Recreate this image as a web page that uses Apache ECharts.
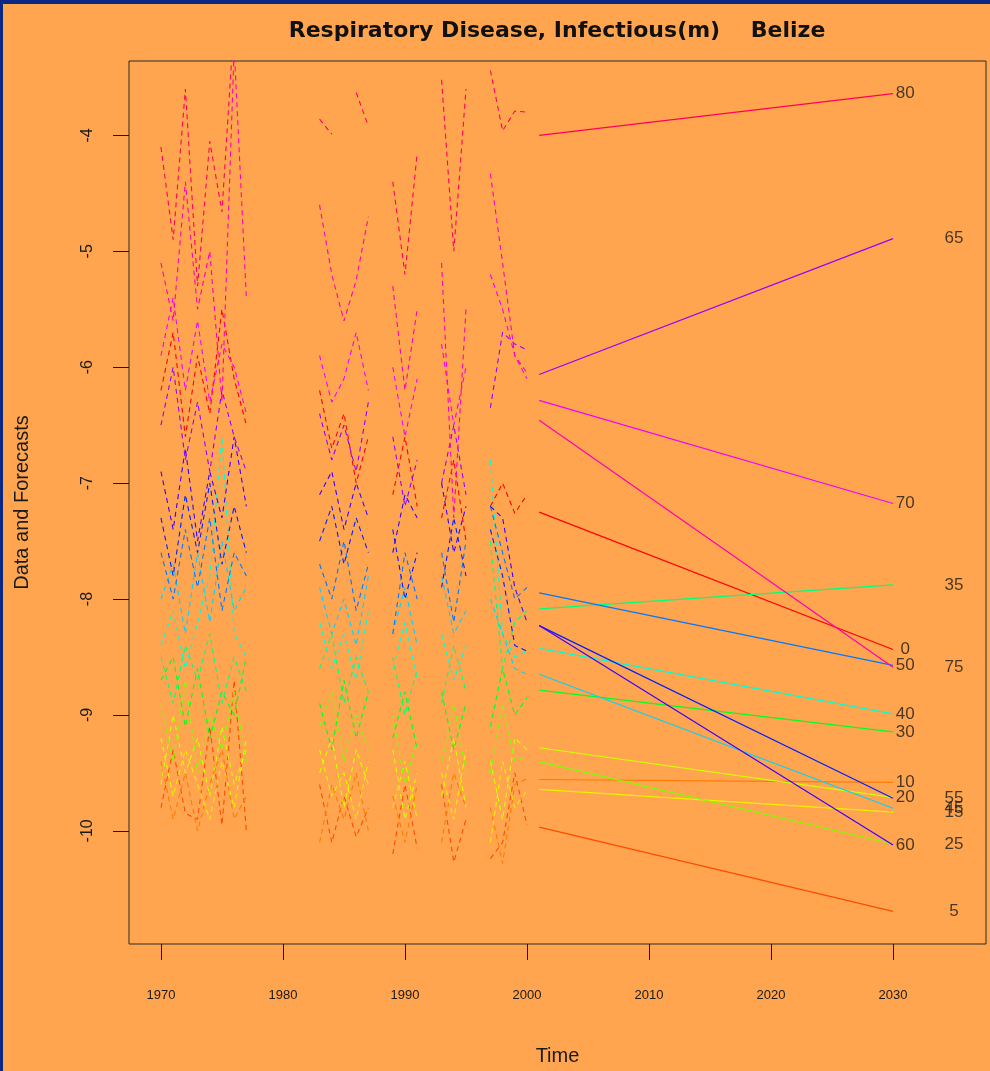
<!DOCTYPE html>
<html>
<head>
<meta charset="utf-8">
<script src="https://cdn.jsdelivr.net/npm/echarts@6/dist/echarts.min.js"></script>
<style>
  html, body { margin: 0; padding: 0; background: #FFA54F; }
  #chart { position: absolute; left: 0; top: 0; width: 990px; height: 1071px; }
  #frame { position: absolute; left: 0; top: 0; width: 987px; height: 1067px;
           border-left: 3px solid #0b2784; border-top: 4px solid #0b2784; pointer-events: none; }
</style>
</head>
<body>
<div id="chart"></div>
<div id="frame"></div>
<script>
// ---------------- data ----------------
const ageGroups = ['0','5','10','15','20','25','30','35','40','45','50','55','60','65','70','75','80'];
const seriesColors = ['#FF0000','#FF4A00','#FF7A00','#F0F000','#D2FF00','#7CFF00','#00FF1E','#00FF78',
  '#00FFD2','#00D2FF','#0078FF','#001EFF','#3C00FF','#9600FF','#F000FF','#FF00B4','#FF005A'];

const histYears = [1970,1971,1972,1973,1974,1975,1976,1977, 1983,1984,1985,1986,1987, 1989,1990,1991, 1993,1994,1995, 1997,1998,1999,2000];

const hist0  = [-6.2,-5.7,-6.6,-5.9,-6.4,-5.5,-6.1,-6.5, -6.2,-6.7,-6.4,-7.0,-6.6, -7.1,-6.6,-7.2, -7.3,-6.8,-7.5, -7.2,-7.0,-7.26,-7.1];
const hist5  = [-9.8,-9.3,-9.85,-9.9,-9.1,-9.95,-8.7,-10.0, -9.6,-10.1,-9.7,-10.05,-9.8, -10.2,-9.6,-10.15, -9.6,-10.27,-9.9, -10.24,-10.1,-9.5,-9.95];
const hist10 = [-9.4,-9.9,-9.5,-10.0,-9.6,-9.3,-9.9,-9.7, -10.1,-9.6,-9.9,-9.5,-10.0, -9.7,-10.1,-9.6, -10.1,-9.5,-9.8, -9.8,-10.28,-9.6,-9.55];
const hist15 = [-9.2,-9.7,-9.3,-9.6,-9.9,-9.4,-9.8,-9.2, -9.3,-9.7,-9.5,-9.9,-9.4, -9.8,-9.4,-9.9, -9.5,-9.9,-9.3, -10.1,-9.4,-9.8,-9.65];
const hist20 = [-9.6,-9.0,-9.5,-9.2,-9.7,-9.1,-9.6,-9.3, -9.5,-9.2,-9.8,-9.3,-9.6, -9.3,-9.9,-9.5, -9.7,-9.2,-9.8, -9.4,-9.9,-9.2,-9.3];
const hist25 = [-8.9,-9.4,-8.7,-9.5,-9.0,-9.3,-8.8,-9.4, -9.1,-8.8,-9.4,-9.0,-9.3, -9.0,-9.6,-9.2, -9.4,-8.9,-9.5, -9.5,-8.9,-9.4,-9.35];
const hist30 = [-8.7,-8.5,-9.1,-8.6,-9.2,-8.8,-9.0,-8.5, -8.9,-9.3,-8.7,-9.2,-8.8, -9.2,-8.8,-9.3, -8.8,-9.3,-8.9, -9.1,-8.6,-9.0,-8.85];
const hist35 = [-8.5,-8.9,-8.4,-8.7,-8.3,-8.9,-8.5,-8.8, -8.6,-8.3,-8.9,-8.5,-8.8, -8.5,-9.0,-8.6, -8.9,-8.4,-8.8, -7.5,-8.6,-8.2,-8.1];
const hist40 = [-8.4,-8.1,-8.6,-8.2,-7.8,-6.6,-8.3,-8.5, -8.2,-8.6,-8.3,-8.7,-8.1, -8.6,-8.2,-8.7, -8.3,-8.7,-8.4, -6.8,-8.3,-8.5,-8.45];
const hist45 = [-8.0,-7.7,-8.3,-7.6,-8.2,-7.5,-8.1,-7.9, -7.9,-8.3,-8.0,-8.4,-7.8, -8.3,-7.9,-8.4, -7.8,-8.3,-8.1, -8.0,-8.3,-8.6,-8.65];
const hist50 = [-7.6,-8.0,-7.4,-7.9,-7.3,-8.1,-7.6,-7.8, -7.7,-8.0,-7.5,-8.1,-7.7, -8.3,-7.6,-8.0, -7.6,-8.2,-7.5, -7.2,-7.6,-8.0,-7.9];
const hist55 = [-7.3,-7.8,-7.1,-7.6,-7.0,-7.7,-7.2,-7.6, -7.5,-7.2,-7.7,-7.3,-7.6, -7.4,-8.0,-7.6, -7.9,-7.3,-7.8, -7.4,-7.8,-8.4,-8.45];
const hist60 = [-6.9,-7.4,-6.7,-7.5,-6.9,-7.3,-6.6,-7.2, -7.1,-6.9,-7.4,-7.0,-7.3, -7.6,-7.1,-7.3, -7.0,-7.6,-7.2, -7.2,-7.3,-7.9,-8.2];
const hist65 = [-6.5,-6.0,-6.8,-6.3,-6.9,-6.2,-6.6,-6.9, -6.4,-6.8,-6.5,-6.9,-6.3, -6.6,-7.2,-6.8, -7.0,-6.5,-7.1, -6.35,-5.7,-5.8,-5.85];
const hist70 = [-5.9,-5.4,-6.2,-5.6,-6.3,-5.8,-6.0,-6.4, -5.9,-6.3,-6.1,-5.7,-6.2, -6.0,-6.6,-6.1, -5.8,-6.5,-6.0, -5.2,-5.5,-5.9,-6.1];
const hist75 = [-5.1,-5.6,-4.4,-5.5,-5.0,-6.3,-3.25,-5.4, -4.6,-5.2,-5.6,-5.25,-4.7, -5.3,-6.2,-5.5, -5.1,-7.3,-5.5, -4.33,-5.1,-5.9,-6.05];
const hist80 = [-4.1,-4.9,-3.6,-5.3,-4.05,-4.66,-3.0,-3.2, -3.86,-3.99,null,-3.63,-3.92, -4.4,-5.2,-4.15, -3.52,-5.0,-3.6, -3.44,-3.96,-3.79,-3.8];

const histByAge = [hist0,hist5,hist10,hist15,hist20,hist25,hist30,hist35,hist40,hist45,hist50,hist55,hist60,hist65,hist70,hist75,hist80];

const fcYears = [2001, 2030];
const fcStart = [-7.25,-9.967,-9.557,-9.642,-9.283,-9.402,-8.786,-8.084,-8.426,-8.649,-7.947,-8.229,-8.229,-6.063,-6.286,-6.457,-4.0];
const fcEnd   = [-8.435,-10.695,-9.582,-9.839,-9.711,-10.113,-9.146,-7.878,-8.991,-9.805,-8.572,-9.719,-10.122,-4.890,-7.176,-8.589,-3.64];

const labelXNear = 2031, labelXFar = 2035;
const xTicks = [1970,1980,1990,2000,2010,2020,2030];
const yTicks = [-10,-9,-8,-7,-6,-5,-4];

// ---------------- chart ----------------
const chart = echarts.init(document.getElementById('chart'), null, { renderer: 'canvas' });

function histData(vals) {
  const out = [];
  for (let k = 0; k < histYears.length; k++) {
    if (k > 0 && histYears[k] - histYears[k - 1] > 1) out.push([histYears[k] - 1, null]);
    out.push([histYears[k], vals[k]]);
  }
  return out;
}

const series = [];
ageGroups.forEach((a, i) => {
  series.push({
    type: 'line', name: 'h' + a, data: histData(histByAge[i]), showSymbol: false, symbol: 'none',
    connectNulls: false, clip: true, silent: true, animation: false,
    lineStyle: { color: seriesColors[i], width: 1.1, type: [5, 4] }
  });
});
ageGroups.forEach((a, i) => {
  series.push({
    type: 'line', name: 'f' + a, data: [[fcYears[0], fcStart[i]], [fcYears[1], fcEnd[i]]],
    showSymbol: false, symbol: 'none', clip: true, silent: true, animation: false,
    lineStyle: { color: seriesColors[i], width: 1.2, type: 'solid' }
  });
});
series.push({
  type: 'scatter', symbolSize: 0, silent: true, animation: false, clip: false,
  data: ageGroups.map((a, i) => ({ value: [i % 2 === 0 ? labelXNear : labelXFar, fcEnd[i]], name: a })),
  label: { show: true, position: 'inside', formatter: p => p.name, color: '#1a1a1a',
           fontFamily: 'Liberation Sans, Arial, sans-serif', fontSize: 17 }
});

chart.setOption({
  backgroundColor: '#FFA54F',
  animation: false,
  grid: { left: 129, top: 61, width: 857, height: 890, show: true, borderColor: '#2a2a2a', borderWidth: 1, backgroundColor: 'transparent' },
  xAxis: {
    type: 'value', min: 1967.38, max: 2037.62,
    name: 'Time', nameLocation: 'middle', nameGap: 102,
    nameTextStyle: { fontSize: 20, color: '#1a1a1a', fontFamily: 'Liberation Sans, Arial, sans-serif' },
    axisLine: { show: false }, splitLine: { show: false },
    axisTick: { show: true, length: 16, customValues: xTicks, lineStyle: { color: '#1a1a1a', width: 1 } },
    axisLabel: { customValues: xTicks, margin: 45, fontSize: 13, color: '#1a1a1a', fontFamily: 'Liberation Sans, Arial, sans-serif', formatter: v => String(v) }
  },
  yAxis: {
    type: 'value', min: -10.976, max: -3.358,
    name: 'Data and Forecasts', nameLocation: 'middle', nameGap: 97, nameRotate: 90,
    nameTextStyle: { fontSize: 20, color: '#1a1a1a', fontFamily: 'Liberation Sans, Arial, sans-serif' },
    axisLine: { show: false }, splitLine: { show: false },
    axisTick: { show: true, length: 16, customValues: yTicks, lineStyle: { color: '#1a1a1a', width: 1 } },
    axisLabel: { customValues: yTicks, rotate: 90, margin: 33, fontSize: 16, color: '#1a1a1a', fontFamily: 'Liberation Sans, Arial, sans-serif', formatter: v => String(v) }
  },
  graphic: [{
    type: 'text', x: 557, y: 31, silent: true,
    style: { text: 'Respiratory Disease, Infectious(m)    Belize', fill: '#111', font: 'bold 22px "DejaVu Sans", sans-serif', textAlign: 'center', textVerticalAlign: 'middle' }
  }],
  series: series
});
</script>
</body>
</html>
